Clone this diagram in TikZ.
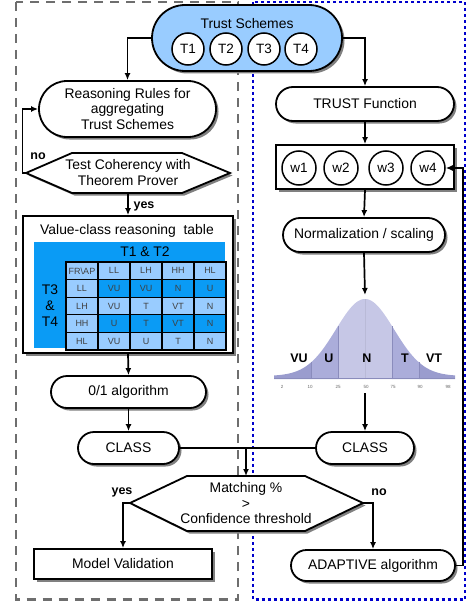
\documentclass[tikz,border=0pt]{standalone}
\usepackage{fontspec}
\setmainfont{Liberation Sans}
\usetikzlibrary{shapes.misc,shadows,arrows.meta}
\definecolor{tsblue}{HTML}{99CCFF}
\definecolor{tabblue}{HTML}{0A9BF5}
\definecolor{cellL}{HTML}{99CCFF}
\definecolor{cellD}{HTML}{0A9BF5}
\definecolor{dashgray}{HTML}{6E6E6E}
\definecolor{dotblue}{HTML}{0000CC}
\definecolor{bellA}{HTML}{9A9CCE}
\definecolor{bellB}{HTML}{ABADDA}
\definecolor{bellC}{HTML}{C6C7E6}
\definecolor{bellL}{HTML}{8A8CBC}
\begin{document}
\begin{tikzpicture}[x=1pt,y=-1pt,
  txt/.style={font=\fontsize{13.9}{15.5}\selectfont, text=black},
  shad/.style={drop shadow={fill=black!50,opacity=1,shadow xshift=2.5pt,shadow yshift=-2.5pt}},
  stad/.style={rounded rectangle, draw, line width=1.8pt, fill=white, inner sep=0pt, shad, txt},
  boxn/.style={rectangle, draw, line width=1.8pt, fill=white, inner sep=0pt, shad, txt},
  circ/.style={circle, draw, line width=1.5pt, fill=white, minimum size=32pt, inner sep=0pt, font=\fontsize{13.5}{15}\selectfont},
  arr/.style={-{Latex[length=7pt,width=6pt]}, line width=1.7pt},
  conn/.style={line width=1.7pt},
  hexa/.style={line width=1.8pt, fill=white, shad},
  lbl/.style={font=\bfseries\fontsize{12.5}{14}\selectfont},
  cell/.style={rectangle, draw=black, line width=1.1pt, minimum width=32pt, minimum height=17.6pt, inner sep=0pt, font=\fontsize{9}{10}\selectfont, text=black!75},
  belllbl/.style={font=\bfseries\fontsize{12.5}{14}\selectfont},
  tick/.style={font=\fontsize{4.5}{5}\selectfont, text=black!60},
  declare function={bellf(\x)=376-77*exp(-((\x-365)^2)/1682);}
]
\useasboundingbox (0,0) rectangle (468,607);

% group frames
\draw[dashgray, line width=2.5pt, dash pattern=on 9pt off 7pt] (16,2) rectangle (238,599.5);
\draw[dotblue, line width=2.3pt, dash pattern=on 3pt off 3pt] (253,2) rectangle (465,599.5);

% Trust schemes
\node[stad, fill=tsblue, minimum width=190pt, minimum height=66pt] (trust) at (247,38) {};
\node[txt] (tstitle) at (247,24) {Trust Schemes};
\node[circ] (t1) at (188,49) {T1};
\node[circ] (t2) at (226,49) {T2};
\node[circ] (t3) at (264,49) {T3};
\node[circ] (t4) at (301,49) {T4};

% left column
\node[stad, minimum width=177pt, minimum height=56pt, align=center] (reason) at (127.5,109)
  {Reasoning Rules for\\aggregating\\Trust Schemes};
\draw[hexa] (26,173) -- (72,153) -- (182,153) -- (230,173) -- (182,193) -- (72,193) -- cycle;
\coordinate (testL) at (26,173);
\coordinate (testB) at (128,193);
\node[txt, align=center] (testtxt) at (128,172.5) {Test Coherency with\\Theorem Prover};

% table
\node[boxn, minimum width=210pt, minimum height=137pt] (tablebox) at (128,284.5) {};
\node[txt] (tabtitle) at (127,231) {Value-class reasoning\ \ table};
\node[fill=tabblue, minimum width=191pt, minimum height=106pt, inner sep=0pt] (tabbg) at (129.5,295) {};
\node[txt] (t12) at (145,252) {T1 \& T2};
\node[font=\fontsize{13.9}{16}\selectfont, align=center] (t34) at (50,306) {T3\\\&\\T4};
\foreach \r/\fc/\a/\b/\c/\d/\e in {0/cellL/{FR\textbackslash AP}/LL/LH/HH/HL, 1/cellD/LL/VU/VU/N/U, 2/cellL/LH/VU/T/VT/N, 3/cellD/HH/U/T/VT/N, 4/cellL/HL/VU/U/T/N}{
  \node[cell, fill=cellL] (c\r a) at (82,{270.8+\r*17.6}) {\a};
  \node[cell, fill=\fc] (c\r b) at (114,{270.8+\r*17.6}) {\b};
  \node[cell, fill=\fc] (c\r c) at (146,{270.8+\r*17.6}) {\c};
  \node[cell, fill=\fc] (c\r d) at (178,{270.8+\r*17.6}) {\d};
  \node[cell, fill=\fc] (c\r e) at (210,{270.8+\r*17.6}) {\e};
}

\node[stad, minimum width=155pt, minimum height=32pt] (algo) at (128.5,392) {0/1 algorithm};
\node[stad, minimum width=101pt, minimum height=32pt] (classL) at (128.5,448) {CLASS};
\node[boxn, minimum width=178pt, minimum height=30pt] (model) at (123,564) {Model Validation};

% right column
\node[stad, minimum width=178pt, minimum height=34pt] (trustfn) at (365,104) {TRUST Function};
\node[boxn, minimum width=178pt, minimum height=44pt] (wbox) at (365,167) {};
\node[circ, minimum size=34pt] (w1) at (299,168) {w1};
\node[circ, minimum size=34pt] (w2) at (341,168) {w2};
\node[circ, minimum size=34pt] (w3) at (386,168) {w3};
\node[circ, minimum size=34pt] (w4) at (428,168) {w4};
\node[stad, minimum width=162pt, minimum height=34pt] (norm) at (364,235) {Normalization / scaling};

% bell curve
\fill[bellA] (274,379) -- plot[domain=274:311,samples=30] (\x,{bellf(\x)}) -- (311,379) -- cycle;
\fill[bellB] (311,379) -- plot[domain=311:338,samples=25] (\x,{bellf(\x)}) -- (338,379) -- cycle;
\fill[bellC] (338,379) -- plot[domain=338:392,samples=40] (\x,{bellf(\x)}) -- (392,379) -- cycle;
\fill[bellB] (392,379) -- plot[domain=392:419,samples=25] (\x,{bellf(\x)}) -- (419,379) -- cycle;
\fill[bellA] (419,379) -- plot[domain=419:455,samples=30] (\x,{bellf(\x)}) -- (455,379) -- cycle;
\foreach \bx in {311,338,392,419}{
  \draw[bellL, line width=0.6pt] (\bx,379) -- (\bx,{bellf(\bx)});
}
\draw[bellL!60, line width=0.5pt] (365,379) -- (365,299);
\draw[bellL, line width=0.8pt] (274,378.5) -- (455,378.5);
\node[belllbl] (lvu) at (299,358) {VU};
\node[belllbl] (lu) at (329,358) {U};
\node[belllbl] (ln) at (367,358) {N};
\node[belllbl] (lt) at (405,358) {T};
\node[belllbl] (lvt) at (434,358) {VT};
\foreach \xx/\tt in {282/2, 310/10, 338/25, 366/50, 393/75, 420/90, 448/98}{
  \node[tick] (tk\tt) at (\xx,387) {\tt};
}
\coordinate (belltop) at (365,295);
\coordinate (bellbot) at (365,393);

\node[stad, minimum width=98pt, minimum height=32pt] (classR) at (365,448) {CLASS};
\node[stad, minimum width=164pt, minimum height=31pt] (adaptive) at (373,565.5) {ADAPTIVE algorithm};

% matching hexagon
\draw[hexa] (130,503) -- (187,476) -- (305,476) -- (363,503) -- (305,531) -- (187,531) -- cycle;
\coordinate (matchL) at (130,503);
\coordinate (matchR) at (363,503);
\coordinate (matchT) at (246,476);
\node[txt, align=center] (matchtxt) at (246,503.5) {Matching \%\\>\\Confidence threshold};

% connectors
\draw[arr] (trust.west) -| (reason.north);
\draw[arr] (trust.east) -| (trustfn.north);
\draw[arr] (testL) -- ++(-3.5pt,0) |- (reason.west);
\node[lbl] (noA) at (38,156) {no};
\draw[arr] (testB) -- (tablebox.north);
\node[lbl] (yesA) at (144,206) {yes};
\draw[arr] (tablebox.south) -- (algo.north);
\draw[arr] (algo.south) -- (classL.north);
\draw[conn] (classL.east) -- (classR.west);
\coordinate (join) at (246,448);
\draw[arr] (join) -- (matchT);
\draw[arr] (matchL) -| (model.north);
\node[lbl] (yesB) at (122,492) {yes};
\draw[arr] (matchR) -| (adaptive.north);
\node[lbl] (noB) at (379,492) {no};
\draw[arr] (adaptive.east) -- ++(7pt,0) |- (w4.east);
\draw[arr] (trustfn.south) -- (wbox.north);
\draw[arr] (wbox.south) -- (norm.north);
\draw[arr] (norm.south) -- (belltop);
\draw[arr] (bellbot) -- (classR.north);
\end{tikzpicture}
\end{document}
